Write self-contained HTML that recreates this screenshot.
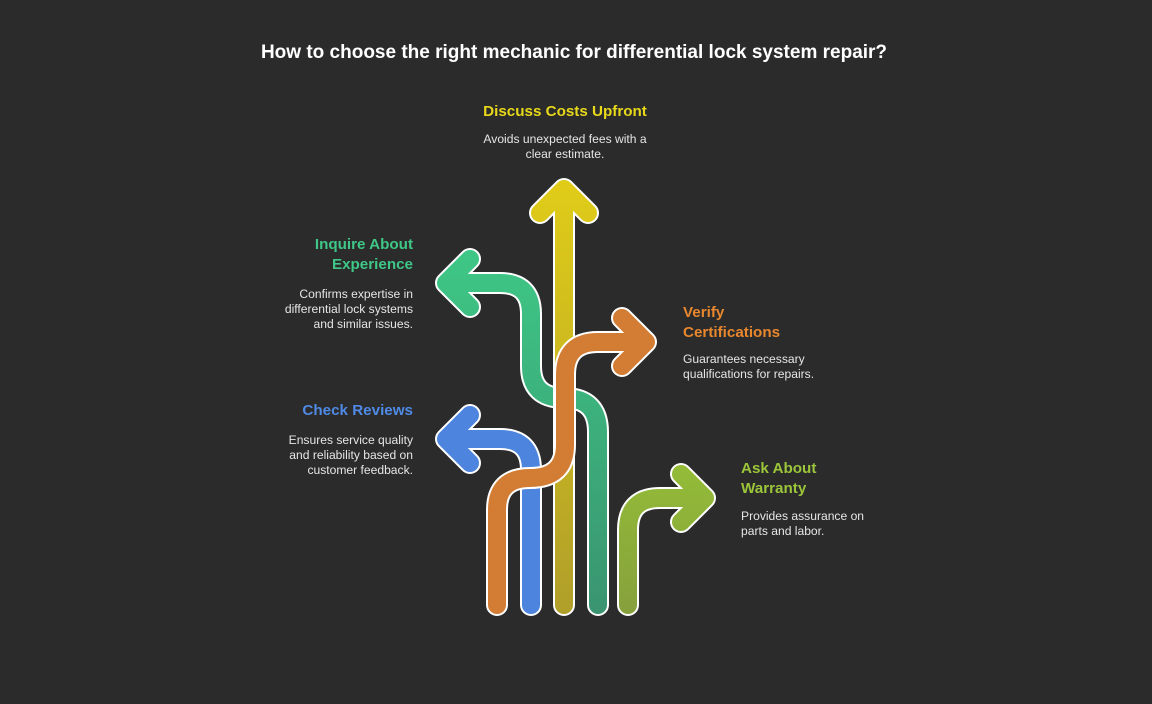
<!DOCTYPE html>
<html><head><meta charset="utf-8"><style>
body{margin:0;background:#2b2b2b;width:1152px;height:704px;overflow:hidden;position:relative;font-family:"Liberation Sans",sans-serif}
.t{position:absolute;font-weight:bold;font-size:15.2px;line-height:20px}
.d{position:absolute;color:#e6e6e6;font-size:12.1px;line-height:15px}
</style></head><body>
<div style="position:absolute;left:0;width:1148px;top:42px;text-align:center;color:#fff;font-weight:bold;font-size:19px">How to choose the right mechanic for differential lock system repair?</div>
<div class="t" style="left:440px;width:250px;text-align:center;top:102px;color:#e8d81a">Discuss Costs Upfront</div>
<div class="d" style="left:440px;width:250px;text-align:center;top:132px">Avoids unexpected fees with a<br>clear estimate.</div>
<div class="t" style="right:739px;text-align:right;top:235px;color:#3ec786">Inquire About<br>Experience</div>
<div class="d" style="right:739px;text-align:right;top:287px">Confirms expertise in<br>differential lock systems<br>and similar issues.</div>
<div class="t" style="left:683px;top:303px;color:#e8872e">Verify<br>Certifications</div>
<div class="d" style="left:683px;top:352px">Guarantees necessary<br>qualifications for repairs.</div>
<div class="t" style="right:739px;text-align:right;top:401px;color:#4f8ae6">Check Reviews</div>
<div class="d" style="right:739px;text-align:right;top:433px">Ensures service quality<br>and reliability based on<br>customer feedback.</div>
<div class="t" style="left:741px;top:459px;color:#9cc63a">Ask About<br>Warranty</div>
<div class="d" style="left:741px;top:509px">Provides assurance on<br>parts and labor.</div>
<svg width="1152" height="704" style="position:absolute;left:0;top:0" fill="none" stroke-linecap="round" stroke-linejoin="round">
<defs>
<linearGradient id="gy" gradientUnits="userSpaceOnUse" x1="0" y1="615" x2="0" y2="180"><stop offset="0" stop-color="#b09f2a"/><stop offset="1" stop-color="#e0cc18"/></linearGradient>
<linearGradient id="gg" gradientUnits="userSpaceOnUse" x1="0" y1="615" x2="0" y2="250"><stop offset="0" stop-color="#3a9470"/><stop offset="1" stop-color="#3ec786"/></linearGradient>
<linearGradient id="gl" gradientUnits="userSpaceOnUse" x1="0" y1="615" x2="0" y2="470"><stop offset="0" stop-color="#86a03c"/><stop offset="1" stop-color="#93bb38"/></linearGradient>
</defs>
<path d="M598,605 V432 Q598,398 564,398 Q531,398 531,366 V314 Q531,283 500,283 H448 M470,259 L446,283 L470,307" stroke="#fff" stroke-width="22"/>
<path d="M598,605 V432 Q598,398 564,398 Q531,398 531,366 V314 Q531,283 500,283 H448 M470,259 L446,283 L470,307" stroke="url(#gg)" stroke-width="18"/>
<path d="M531,605 V470 Q531,439 500,439 H448 M470,415 L446,439 L470,463" stroke="#fff" stroke-width="22"/>
<path d="M531,605 V470 Q531,439 500,439 H448 M470,415 L446,439 L470,463" stroke="#4d84dd" stroke-width="18"/>
<path d="M564,605 V190 M540,213 L564,189 L588,213" stroke="#fff" stroke-width="22"/>
<path d="M564,605 V190 M540,213 L564,189 L588,213" stroke="url(#gy)" stroke-width="18"/>
<path d="M497,605 V510 Q497,478 530,478 Q565,478 565,445 V375 Q565,342 598,342 H645 M622,318 L646,342 L622,366" stroke="#fff" stroke-width="22"/>
<path d="M497,605 V510 Q497,478 530,478 Q565,478 565,445 V375 Q565,342 598,342 H645 M622,318 L646,342 L622,366" stroke="#d27d33" stroke-width="18"/>
<path d="M628,605 V530 Q628,498 660,498 H704 M681,474 L705,498 L681,522" stroke="#fff" stroke-width="22"/>
<path d="M628,605 V530 Q628,498 660,498 H704 M681,474 L705,498 L681,522" stroke="url(#gl)" stroke-width="18"/>
</svg>
</body></html>
